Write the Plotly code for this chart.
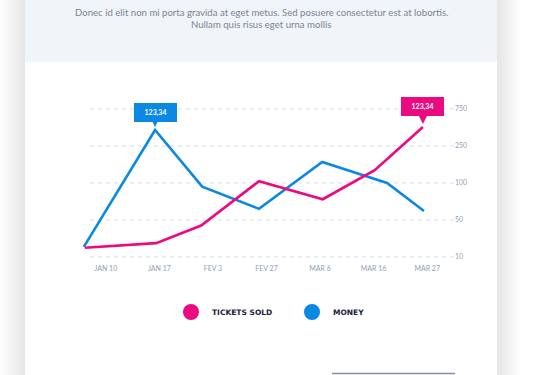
import numpy as np
import plotly.graph_objects as go

# ---- data ----
x_labels = ["JAN 10", "JAN 17", "FEV 3", "FEV 27", "MAR 6", "MAR 16", "MAR 27"]
y_tick_values = [10, 50, 100, 250, 750]

tickets_x = [-0.39, 0.94, 1.78, 2.86, 4.05, 5.02, 5.92]
tickets_sold = [20, 25, 44, 107, 78, 152, 505]

money_x = [-0.41, 0.92, 1.80, 2.86, 4.04, 5.25, 5.94]
money = [21, 465, 95, 65, 185, 100, 62]

tooltip_text = "123,34"
subtitle_1 = "Donec id elit non mi porta gravida at eget metus. Sed posuere consectetur est at lobortis."
subtitle_2 = "Nullam quis risus eget urna mollis"

PINK = "#ec0a80"
BLUE = "#0a88e2"

W, H = 545, 375
tick_pos = list(range(len(y_tick_values)))


def to_scale(v):
    # piecewise scale: tick values are evenly spaced on the axis
    return np.interp(v, y_tick_values, tick_pos)


def px(x):
    return x / W


def py(y):
    return 1 - y / H


fig = go.Figure()
fig.add_trace(go.Scatter(x=money_x, y=to_scale(money), mode="lines",
                         line=dict(color=BLUE, width=2.6), name="MONEY",
                         hoverinfo="skip"))
fig.add_trace(go.Scatter(x=tickets_x, y=to_scale(tickets_sold), mode="lines",
                         line=dict(color=PINK, width=2.6), name="TICKETS SOLD",
                         hoverinfo="skip"))

shapes = []
# card shadows
for i in range(12):
    shapes.append(dict(type="rect", xref="paper", yref="paper", layer="below",
                       x0=px(1 + 2 * i), x1=px(25), y0=0, y1=1,
                       fillcolor="rgba(0,0,0,0.008)", line=dict(width=0)))
    shapes.append(dict(type="rect", xref="paper", yref="paper", layer="below",
                       x0=px(497), x1=px(521 - 2 * i), y0=0, y1=1,
                       fillcolor="rgba(0,0,0,0.007)", line=dict(width=0)))
# card
shapes.append(dict(type="rect", xref="paper", yref="paper", layer="below",
                   x0=px(25), x1=px(497), y0=0, y1=1,
                   fillcolor="#ffffff", line=dict(width=0)))
# header band
shapes.append(dict(type="rect", xref="paper", yref="paper", layer="below",
                   x0=px(25), x1=px(497), y0=py(62), y1=1,
                   fillcolor="#f0f5f9", line=dict(width=0)))
# dashed grid lines
for p in tick_pos:
    shapes.append(dict(type="line", xref="paper", yref="y", layer="below",
                       x0=px(90), x1=px(455), y0=p, y1=p,
                       line=dict(color="#d9dde2", width=1, dash="4px,4px")))
# bottom button edge
shapes.append(dict(type="line", xref="paper", yref="paper", layer="below",
                   x0=px(332), x1=px(455), y0=py(373.5), y1=py(373.5),
                   line=dict(color="#8a8f9e", width=1.5)))
# legend dots
for cx, col in [(191, PINK), (312, BLUE)]:
    shapes.append(dict(type="circle", xref="paper", yref="paper",
                       x0=px(cx - 8), x1=px(cx + 8),
                       y0=py(312 + 8), y1=py(312 - 8),
                       fillcolor=col, line=dict(width=0)))

annotations = [
    dict(xref="paper", yref="paper", x=px(261), y=py(12), yanchor="middle", xanchor="center",
         text=subtitle_1, showarrow=False,
         font=dict(family="Lato", size=9.6, color="#7d848e")),
    dict(xref="paper", yref="paper", x=px(261), y=py(25), yanchor="middle", xanchor="center",
         text=subtitle_2, showarrow=False,
         font=dict(family="Lato", size=9.6, color="#7d848e")),
    dict(xref="paper", yref="paper", x=px(210), y=py(312.5), xanchor="left", yanchor="middle",
         text="<b>TICKETS SOLD</b>", showarrow=False,
         font=dict(family="DejaVu Sans", size=7.5, color="#1b2036")),
    dict(xref="paper", yref="paper", x=px(331), y=py(312.5), xanchor="left", yanchor="middle",
         text="<b>MONEY</b>", showarrow=False,
         font=dict(family="DejaVu Sans", size=7.5, color="#1b2036")),
]
# tooltips at the peaks
bi = int(np.argmax(money))
pi = int(np.argmax(tickets_sold))
for xs, ys, i, col, ay in [(money_x, money, bi, BLUE, -17), (tickets_x, tickets_sold, pi, PINK, -21)]:
    annotations.append(dict(
        x=xs[i], y=float(to_scale(ys[i])), xref="x", yref="y",
        text=f"<b>{tooltip_text}</b>", showarrow=True, arrowhead=2, arrowsize=1,
        arrowwidth=2, arrowcolor=col, ax=0, ay=ay, standoff=3,
        bgcolor=col, bordercolor=col, borderpad=3, width=35, height=11,
        font=dict(family="Lato", size=7, color="#ffffff")))

fig.update_layout(
    width=W, height=H,
    margin=dict(l=0, r=0, t=0, b=0),
    paper_bgcolor="#ffffff", plot_bgcolor="rgba(0,0,0,0)",
    showlegend=False,
    shapes=shapes, annotations=annotations,
    xaxis=dict(domain=[px(79), px(454)], range=[-0.5, 6.5], tickmode="array",
               tickvals=list(range(len(x_labels))),
               ticktext=x_labels, showgrid=False, zeroline=False, showline=False,
               ticks="", automargin=False, ticklabelstandoff=2,
               tickfont=dict(family="Lato", size=7, color="#8fa1b4"),
               fixedrange=True),
    yaxis=dict(domain=[py(261), py(90)], range=[-0.108, 4.51], side="right",
               tickmode="array", tickvals=tick_pos,
               ticktext=[str(v) for v in y_tick_values], showgrid=False,
               zeroline=False, showline=False, ticks="", automargin=False,
               tickfont=dict(family="Lato", size=7, color="#8fa1b4"),
               fixedrange=True),
)

fig.write_html("out.html", config={"displayModeBar": False},
               post_script="document.body.style.margin='0';document.body.style.overflow='hidden';")
